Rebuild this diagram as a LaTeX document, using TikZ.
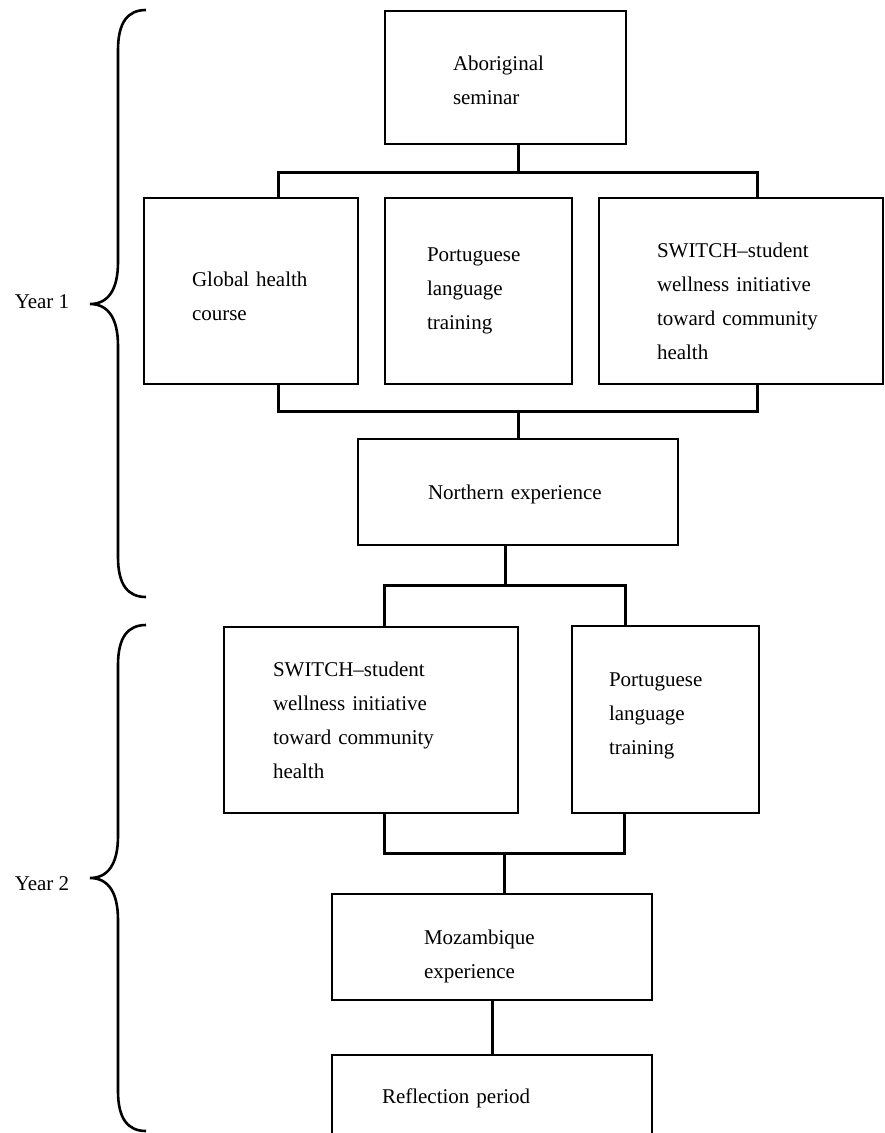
\documentclass[tikz,border=0pt]{standalone}
\usepackage{fontspec}
\setmainfont{Liberation Serif}
\begin{document}
\begin{tikzpicture}[x=1pt, y=-1pt,
        font=\fontsize{21}{34}\selectfont,
        caja/.style={draw, line width=1.8pt, align=left, inner ysep=0pt},
        enlace/.style={line width=3pt},
        llave/.style={line width=2.6pt}]
        \useasboundingbox (0,0) rectangle (884,1133);

        % Year 1
        \node[caja, minimum width=241pt, minimum height=133pt, text width=105pt, inner xsep=68pt] (abor) at (505.5,77.5) {\rule{0pt}{20pt}Aboriginal\\seminar};
        \node[caja, minimum width=214pt, minimum height=186pt, text width=118pt, inner xsep=48pt] (global) at (251,291) {\rule{0pt}{26pt}Global~health\\course};
        \node[caja, minimum width=187pt, minimum height=186pt, text width=103pt, inner xsep=42pt] (port1) at (478.5,291) {Portuguese\\language\\training};
        \node[caja, minimum width=284pt, minimum height=186pt, text width=168pt, inner xsep=58pt] (switch1) at (741,291) {\rule{0pt}{36pt}SWITCH--student\\wellness~initiative\\toward~community\\health};
        \node[caja, minimum width=320pt, minimum height=106pt, text width=180pt, inner xsep=70pt] (north) at (518,492) {\rule{0pt}{20pt}Northern~experience};

        % Year 2
        \node[caja, minimum width=294pt, minimum height=186pt, text width=196pt, inner xsep=49pt] (switch2) at (371,720) {SWITCH--student\\wellness~initiative\\toward~community\\health};
        \node[caja, minimum width=187pt, minimum height=187pt, text width=113pt, inner xsep=37pt] (port2) at (665.5,719.5) {Portuguese\\language\\training\rule[-12pt]{0pt}{0pt}};
        \node[caja, minimum width=320pt, minimum height=106pt, text width=136pt, inner xsep=92pt] (moz) at (492,947) {\rule{0pt}{34pt}Mozambique\\experience};
        \node[caja, minimum width=320pt, minimum height=86pt, text width=220pt, inner xsep=50pt] (refl) at (492,1098) {Reflection~period};

        % Uniones
        \coordinate (t1) at (518,172);
        \coordinate (t1l) at (278,172);
        \coordinate (t1r) at (757,172);
        \draw[enlace] (abor.south -| t1) -- (t1);
        \draw[enlace] (global.north -| t1l) -- (t1l) -- (t1r) -- (switch1.north -| t1r);

        \coordinate (t2l) at (278,411);
        \coordinate (t2r) at (757,411);
        \draw[enlace] (global.south -| t2l) -- (t2l) -- (t2r) -- (switch1.south -| t2r);
        \draw[enlace] (north.north) -- (north.north |- t2l);

        \coordinate (t3) at (505,585);
        \coordinate (t3l) at (384,585);
        \coordinate (t3r) at (625,585);
        \draw[enlace] (north.south -| t3) -- (t3);
        \draw[enlace] (switch2.north -| t3l) -- (t3l) -- (t3r) -- (port2.north -| t3r);

        \coordinate (t4) at (504,853);
        \coordinate (t4l) at (384,853);
        \coordinate (t4r) at (624,853);
        \draw[enlace] (switch2.south -| t4l) -- (t4l) -- (t4r) -- (port2.south -| t4r);
        \draw[enlace] (t4) -- (moz.north -| t4);
        \draw[enlace] (moz.south) -- (refl.north);

        % Llaves
        \draw[llave] (146,10) .. controls (128,10) and (118,22) .. (118,50) -- (118,262)
            .. controls (118,290) and (108,304) .. (90,304)
            .. controls (108,304) and (118,318) .. (118,346) -- (118,557)
            .. controls (118,585) and (128,597) .. (146,597);
        \draw[llave] (146,625) .. controls (128,625) and (118,637) .. (118,665) -- (118,836)
            .. controls (118,864) and (108,878) .. (90,878)
            .. controls (108,878) and (118,892) .. (118,920) -- (118,1091)
            .. controls (118,1119) and (128,1131) .. (146,1131);
        \node (year1) at (42,302) {Year 1};
        \node (year2) at (42,884) {Year 2};
    \end{tikzpicture}
\end{document}
